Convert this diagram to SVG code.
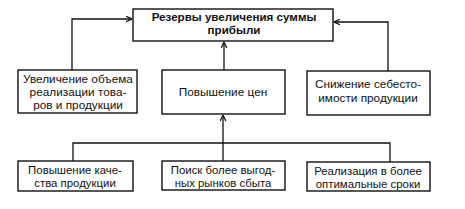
<svg xmlns="http://www.w3.org/2000/svg" width="465" height="209" viewBox="0 0 465 209">
<defs>
<marker id="arr" viewBox="0 0 10 10" refX="9.5" refY="5" markerWidth="7" markerHeight="7" markerUnits="userSpaceOnUse" orient="auto">
<path d="M1,1 L9.5,5 L1,9" fill="none" stroke="#111" stroke-width="1.8"/>
</marker>
<style>
.box{fill:#fff;stroke:#111;stroke-width:1.4}
.ln{fill:none;stroke:#111;stroke-width:1.3}
text{font-family:"Liberation Sans",Arial,sans-serif;font-size:11.8px;fill:#111;text-anchor:middle}
.s{font-size:11.4px}
.b{font-weight:bold;font-size:11.6px}
</style>
</defs>
<rect width="465" height="209" fill="#fff"/>
<g id="connectors">
<polyline class="ln" points="72,70 72,19 132,19" marker-end="url(#arr)"/>
<polyline class="ln" points="388,71 388,22 334,22" marker-end="url(#arr)"/>
<line class="ln" x1="224" y1="70" x2="224" y2="42" marker-end="url(#arr)"/>
<polyline class="ln" points="73,161 73,143 390,143 390,162"/>
<line class="ln" x1="223" y1="161" x2="223" y2="115" marker-end="url(#arr)"/>
</g>
<g id="top">
<rect class="box" x="133" y="9" width="200" height="32"/>
<text class="b" x="234" y="21">Резервы увеличения суммы</text>
<text class="b" x="234" y="34">прибыли</text>
</g>
<g id="volume">
<rect class="box" x="18" y="70" width="119" height="43"/>
<text x="78" y="83">Увеличение объема</text>
<text x="78" y="96">реализации това-</text>
<text x="78" y="109">ров и продукции</text>
</g>
<g id="price">
<rect class="box" x="162" y="70" width="123" height="44"/>
<text x="223" y="96">Повышение цен</text>
</g>
<g id="cost">
<rect class="box" x="307" y="71" width="123" height="44"/>
<text x="368" y="88">Снижение себесто-</text>
<text x="368" y="102">имости продукции</text>
</g>
<g id="quality">
<rect class="box" x="18" y="161" width="115" height="30"/>
<text class="s" x="75" y="174">Повышение каче-</text>
<text class="s" x="75" y="187">ства продукции</text>
</g>
<g id="markets">
<rect class="box" x="162" y="161" width="123" height="29"/>
<text class="s" x="223" y="173.5">Поиск более выгод-</text>
<text class="s" x="223" y="186.5">ных рынков сбыта</text>
</g>
<g id="timing">
<rect class="box" x="307" y="162" width="123" height="29"/>
<text class="s" x="368" y="174.5">Реализация в более</text>
<text class="s" x="368" y="187.5">оптимальные сроки</text>
</g>
</svg>
